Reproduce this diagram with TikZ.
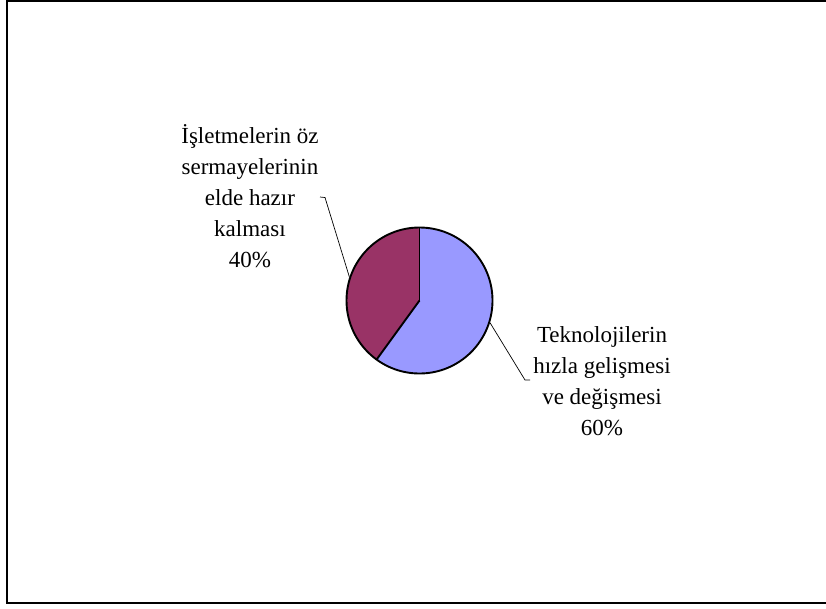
\documentclass[tikz,border=0pt]{standalone}
\usepackage{fontspec}
\setmainfont{Liberation Serif}
\definecolor{sliceblue}{HTML}{9999FF}
\definecolor{slicemaroon}{HTML}{993366}
\begin{document}
\begin{tikzpicture}[x=1pt,y=-1pt,
  slice/.style={draw=black,line width=1.9pt,line join=round},
  leader/.style={draw=black,line width=0.7pt},
  lbl/.style={align=center,font=\fontsize{23}{31}\selectfont,inner sep=0pt}]
\useasboundingbox (0,0) rectangle (826,608);
\draw[line width=2pt] (6.5,0.8) -- (840,0.8) -- (840,602.5) -- (6.5,602.5) -- cycle;
\coordinate (c) at (419.5,300.5);
\fill[sliceblue] (c) -- ++(0,-73) arc[start angle=-90,end angle=126,radius=73] -- cycle;
\fill[slicemaroon] (c) -- ++(0,-73) arc[start angle=-90,end angle=-234,radius=73] -- cycle;
\draw[slice] (c) circle[radius=73];
\draw[slice] (c) -- ++(0,-73);
\draw[slice] (c) -- ++(126:73);
\node[lbl] (l40) at (250,196) {İşletmelerin öz\\sermayelerinin\\elde hazır\\kalması\\40\%};
\node[lbl] (l60) at (602,381) {Teknolojilerin\\hızla gelişmesi\\ve değişmesi\\60\%};
\coordinate (a1) at (320,197);
\coordinate (a2) at (325,197.5);
\coordinate (a3) at (349.3,276.7);
\coordinate (b1) at (490,322.7);
\coordinate (b2) at (525,380);
\coordinate (b3) at (530,380);
\draw[leader] (a1) -- (a2) -- (a3);
\draw[leader] (b1) -- (b2) -- (b3);
\end{tikzpicture}
\end{document}
